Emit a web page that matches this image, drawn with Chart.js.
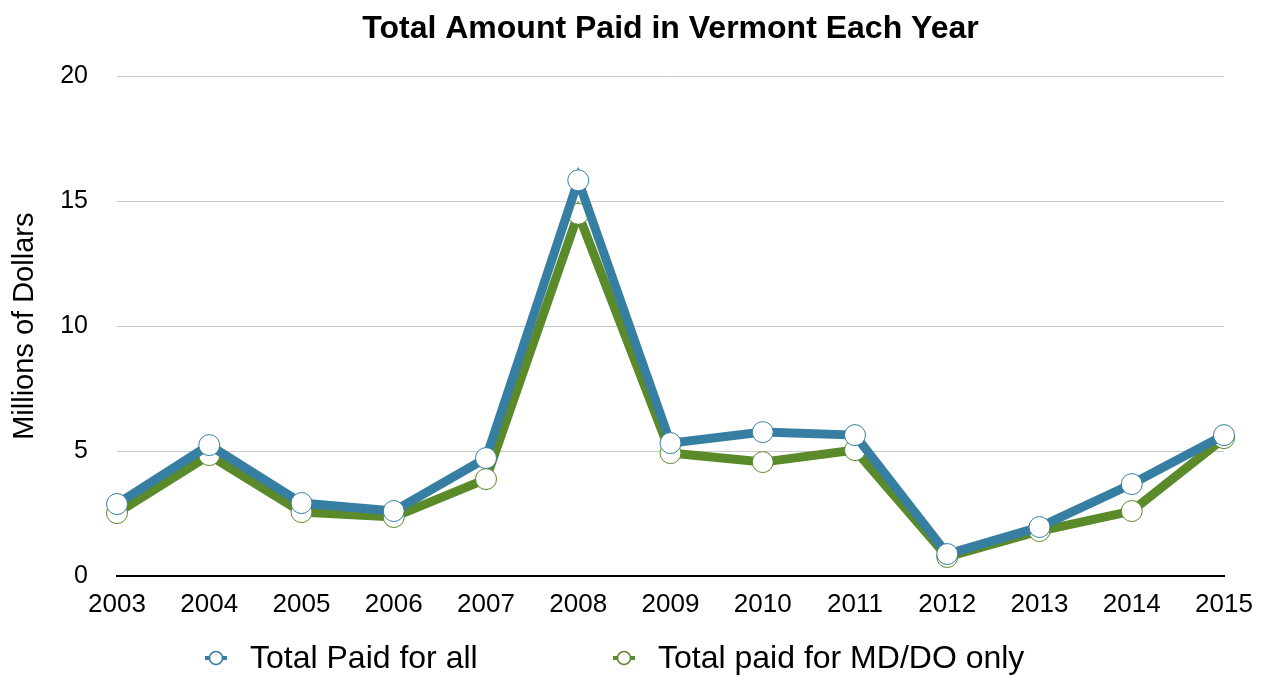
<!DOCTYPE html>
<html>
<head>
<meta charset="utf-8">
<script src="https://cdn.jsdelivr.net/npm/chart.js@4/dist/chart.umd.min.js"></script>
<style>
html,body{margin:0;padding:0;background:#fff;}
#wrap{width:1266px;height:677px;position:relative;}
</style>
</head>
<body>
<div id="wrap"><canvas id="c" width="1266" height="677"></canvas></div>
<script>
const years = ["2003","2004","2005","2006","2007","2008","2009","2010","2011","2012","2013","2014","2015"];
const totalAll = [2.88, 5.24, 2.92, 2.6, 4.72, 15.84, 5.32, 5.76, 5.64, 0.88, 1.96, 3.68, 5.64];
const totalMD = [2.52, 4.84, 2.56, 2.36, 3.88, 14.5, 4.92, 4.56, 5.04, 0.76, 1.8, 2.6, 5.52];
const yTicks = [0, 5, 10, 15, 20];
const seriesNames = ["Total Paid for all", "Total paid for MD/DO only"];
const titleText = "Total Amount Paid in Vermont Each Year";
const yTitle = "Millions of Dollars";

const BLUE = "#367ea2";
const GREEN = "#5a8a2a";
const FONT = "'Liberation Sans', Arial, Helvetica, sans-serif";

const legendPlugin = {
  id: 'customLegend',
  afterDraw(chart) {
    const ctx = chart.ctx;
    const y = 658;
    const starts = [205, 613];
    ctx.save();
    chart.data.datasets.forEach((ds, i) => {
      const x = starts[i];
      ctx.strokeStyle = ds.borderColor;
      ctx.lineWidth = 4;
      ctx.beginPath();
      ctx.moveTo(x, y);
      ctx.lineTo(x + 22, y);
      ctx.stroke();
      ctx.beginPath();
      ctx.arc(x + 11, y, 6.5, 0, Math.PI * 2);
      ctx.fillStyle = '#fff';
      ctx.fill();
      ctx.lineWidth = 1.5;
      ctx.stroke();
      ctx.fillStyle = '#000';
      ctx.font = "32px " + FONT;
      ctx.textBaseline = 'middle';
      ctx.textAlign = 'left';
      ctx.fillText(ds.label, x + 45, y + 1);
    });
    ctx.restore();
  }
};

new Chart(document.getElementById('c'), {
  type: 'line',
  data: {
    labels: years,
    datasets: [
      {
        label: seriesNames[0],
        data: totalAll,
        borderColor: BLUE,
        backgroundColor: '#fff',
        borderWidth: 9,
        pointRadius: 10.5,
        pointBorderWidth: 1,
        pointBackgroundColor: '#fff',
        pointBorderColor: BLUE,
        tension: 0,
        fill: false
      },
      {
        label: seriesNames[1],
        data: totalMD,
        borderColor: GREEN,
        backgroundColor: '#fff',
        borderWidth: 9,
        pointRadius: 10.5,
        pointBorderWidth: 1,
        pointBackgroundColor: '#fff',
        pointBorderColor: GREEN,
        tension: 0,
        fill: false
      }
    ]
  },
  options: {
    responsive: false,
    animation: false,
    devicePixelRatio: 1,
    layout: { padding: { left: 0, right: 42, top: 0, bottom: 61 } },
    plugins: {
      legend: { display: false },
      tooltip: { enabled: false },
      title: {
        display: true,
        fullSize: false,
        text: titleText,
        color: '#000',
        font: { family: FONT, size: 32, weight: 'bold' },
        padding: { top: 10, bottom: 28 }
      }
    },
    scales: {
      x: {
        offset: false,
        grid: { display: false, drawTicks: false },
        border: { display: true, color: '#000', width: 2 },
        ticks: {
          color: '#000',
          font: { family: FONT, size: 26 },
          padding: 13,
          maxRotation: 0,
          autoSkip: false
        },
        afterFit(scale) { scale.height = 40; }
      },
      y: {
        min: 0,
        max: 20,
        afterBuildTicks(scale) { scale.ticks = yTicks.map(v => ({ value: v })); },
        grid: { color: '#c8c8c8', lineWidth: 1, drawTicks: false },
        border: { display: false },
        ticks: {
          color: '#000',
          font: { family: FONT, size: 25 },
          padding: 29
        },
        title: {
          display: true,
          text: yTitle,
          color: '#000',
          font: { family: FONT, size: 29 },
          padding: { top: 8, bottom: 0 }
        },
        afterFit(scale) { scale.width = 117; }
      }
    }
  },
  plugins: [legendPlugin]
});
</script>
</body>
</html>
